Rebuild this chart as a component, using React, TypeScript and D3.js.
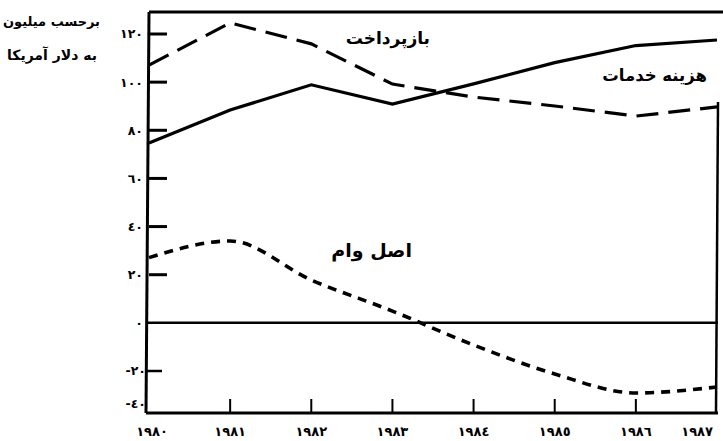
import * as d3 from "d3";

const years = [1980, 1981, 1982, 1983, 1984, 1985, 1986, 1987];
const yearLabels = ["١٩٨٠", "١٩٨١", "١٩٨٢", "١٩٨٣", "١٩٨٤", "١٩٨٥", "١٩٨٦", "١٩٨٧"];
const serviceCost = [74.7, 88.4, 98.9, 90.9, 99.3, 108.1, 115.2, 117.5];
const repayment = [107.1, 124.6, 115.9, 99.2, 93.8, 90.1, 85.9, 89.7];
const principal = [27.1, 34, 17.8, 4.9, -9.2, -21.8, -33.3, -29.7];
const yTicks = [120, 100, 80, 60, 40, 20, 0, -20, -40];
const yTickLabels = ["١٢٠", "١٠٠", "٨٠", "٦٠", "٤٠", "٢٠", "٠", "-٢٠", "-٤٠"];

const W = 723;
const H = 441;
const left = 149;
const right = 718;
const top = 12;
const bottom = 413;

const font = "'DejaVu Sans', sans-serif";

export default function App() {
  const x = d3.scaleLinear().domain([1980, 1987]).range([left, 717]);
  // hand-drawn axis: the lowest step is squeezed
  const y = d3.scaleLinear().domain([-40, -20, 120]).range([404, 371, 34]);

  const line = (vals: number[]) =>
    d3
      .line<number>()
      .x((_, i) => x(years[i]))
      .y((d) => y(d))
      .curve(d3.curveLinear)(vals) ?? "";

  const smooth = (vals: number[]) =>
    d3
      .line<number>()
      .x((_, i) => x(years[i]))
      .y((d) => y(d))
      .curve(d3.curveMonotoneX)(vals) ?? "";

  return (
    <svg
      width={W}
      height={H}
      style={{ position: "absolute", left: 0, top: 0, background: "#fff" }}
      fontFamily={font}
    >
      <text x={100} y={26} textAnchor="end" fontSize={13} fontWeight="bold">
        برحسب میلیون
      </text>
      <text x={97} y={60} textAnchor="end" fontSize={14} fontWeight="bold">
        به دلار آمریکا
      </text>

      {/* frame */}
      <line x1={left} x2={W} y1={top} y2={top} stroke="#000" strokeWidth={3} />
      <line x1={left} x2={left - 3} y1={top} y2={bottom} stroke="#000" strokeWidth={3} />
      <line x1={right} x2={right - 2} y1={top + 90} y2={bottom} stroke="#000" strokeWidth={2.5} />
      <line x1={left - 3} x2={right} y1={bottom} y2={bottom} stroke="#000" strokeWidth={3} />
      <line x1={left - 1} x2={right} y1={y(0)} y2={y(0)} stroke="#000" strokeWidth={2.5} />

      {/* y ticks */}
      {yTicks.map((t, i) => (
        <g key={t}>
          {t > 0 && (
            <line x1={left} x2={left + 18} y1={y(t)} y2={y(t)} stroke="#000" strokeWidth={3} />
          )}
          {t === -20 && (
            <line x1={left - 2} x2={left + 13} y1={y(t)} y2={y(t)} stroke="#000" strokeWidth={2.5} />
          )}
          <text
            x={t < 0 ? left - 3 : left - 6}
            y={y(t)}
            dy="0.35em"
            textAnchor="end"
            fontSize={12.5}
            fontWeight="bold"
          >
            {yTickLabels[i]}
          </text>
        </g>
      ))}

      {/* x ticks */}
      {years.map((yr, i) => (
        <g key={yr}>
          {i > 0 && i < years.length - 1 && (
            <line x1={x(yr)} x2={x(yr)} y1={bottom} y2={bottom - 14} stroke="#000" strokeWidth={2} />
          )}
          <text
            x={i === years.length - 1 ? x(yr) - 4 : x(yr) + (i === 0 ? 3 : 0)}
            y={436}
            textAnchor={i === years.length - 1 ? "end" : "middle"}
            fontSize={13}
            fontWeight="bold"
          >
            {yearLabels[i]}
          </text>
        </g>
      ))}

      {/* series */}
      <path d={line(serviceCost)} fill="none" stroke="#000" strokeWidth={3.2} />
      <path
        d={line(repayment)}
        fill="none"
        stroke="#000"
        strokeWidth={3.2}
        strokeDasharray="22 10"
      />
      <path
        d={smooth(principal)}
        fill="none"
        stroke="#000"
        strokeWidth={3.6}
        strokeDasharray="9 7"
      />

      <text x={430} y={44} textAnchor="end" fontSize={17} fontWeight="bold">
        بازپرداخت
      </text>
      <text x={707} y={81} textAnchor="end" fontSize={16.5} fontWeight="bold">
        هزینه خدمات
      </text>
      <text x={412} y={257} textAnchor="end" fontSize={19} fontWeight="bold">
        اصل وام
      </text>
    </svg>
  );
}
